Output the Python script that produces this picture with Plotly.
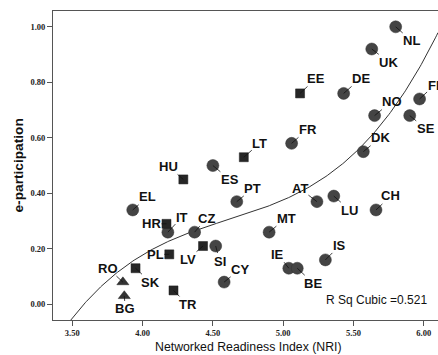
import numpy as np
import plotly.graph_objects as go

# ---------------- data ----------------
countries = ["NL", "UK", "EE", "DE", "FI", "NO", "SE", "DK", "FR", "LT", "ES", "HU",
             "EL", "HR", "IT", "CZ", "PL", "LV", "SI", "SK", "RO", "BG", "TR", "PT",
             "AT", "LU", "CH", "MT", "IS", "IE", "BE", "CY"]
nri = [5.80, 5.63, 5.12, 5.43, 5.97, 5.65, 5.90, 5.57, 5.06, 4.72, 4.50, 4.29,
       3.93, 4.17, 4.18, 4.37, 4.19, 4.43, 4.52, 3.95, 3.86, 3.87, 4.22, 4.67,
       5.24, 5.36, 5.66, 4.90, 5.30, 5.04, 5.10, 4.58]
e_participation = [1.00, 0.92, 0.76, 0.76, 0.74, 0.68, 0.68, 0.55, 0.58, 0.53, 0.50, 0.45,
                   0.34, 0.29, 0.26, 0.26, 0.18, 0.21, 0.21, 0.13, 0.08, 0.03, 0.05, 0.37,
                   0.37, 0.39, 0.34, 0.26, 0.16, 0.13, 0.13, 0.08]
group = ["c", "c", "s", "c", "c", "c", "c", "c", "c", "s", "c", "s",
         "c", "s", "c", "c", "s", "s", "c", "s", "t", "t", "s", "c",
         "c", "c", "c", "c", "c", "c", "c", "c"]
x_ticks = [3.5, 4.0, 4.5, 5.0, 5.5, 6.0]
y_ticks = [0.0, 0.2, 0.4, 0.6, 0.8, 1.0]
r_sq_text = "R Sq Cubic =0.521"

# ---------------- styles ----------------
label_offsets = {
    "NL": (16, 14), "UK": (17, 13), "EE": (16, -15), "DE": (17, -15), "FI": (14, -13),
    "NO": (17, -14), "SE": (16, 13), "DK": (17, -14), "FR": (16, -14), "LT": (16, -14),
    "ES": (17, 14), "HU": (-15, -13), "EL": (15, -13), "HR": (-15, 0), "IT": (14, -15),
    "CZ": (12, -14), "PL": (-14, 0), "LV": (-15, 13), "SI": (4, 15), "SK": (15, 14),
    "RO": (-15, -14), "BG": (1, 13), "TR": (14, 14), "PT": (16, -13), "AT": (-17, -13),
    "LU": (16, 14), "CH": (15, -14), "MT": (17, -14), "IS": (14, -14), "IE": (-11, -14),
    "BE": (16, 15), "CY": (16, -13),
}
marker_styles = {
    "c": dict(symbol="circle", size=12, color="#444444", line=dict(color="#333333", width=0.5)),
    "s": dict(symbol="square", size=9, color="#262626", line=dict(color="#1a1a1a", width=0.5)),
    "t": dict(symbol="triangle-up", size=10.5, color="#333333", line=dict(color="#222222", width=0.5)),
}
SANS = "Liberation Sans, Arial, sans-serif"
SERIF = "Liberation Serif, Times New Roman, serif"

x_range = [3.363, 6.101]
y_range = [-0.0566, 1.057]

fig = go.Figure()

# cubic fit line (computed from the data, as the original R Sq Cubic fit)
coef = np.polyfit(nri, e_participation, 3)
xf = np.linspace(x_range[0], x_range[1], 300)
fig.add_trace(go.Scatter(x=xf, y=np.polyval(coef, xf), mode="lines",
                         line=dict(color="#333333", width=1), hoverinfo="skip"))

for g in ["c", "s", "t"]:
    idx = [i for i, v in enumerate(group) if v == g]
    fig.add_trace(go.Scatter(
        x=[nri[i] for i in idx], y=[e_participation[i] for i in idx],
        mode="markers", marker=marker_styles[g],
        text=[countries[i] for i in idx], hoverinfo="text"))

annotations = []
for c, xv, yv in zip(countries, nri, e_participation):
    dx, dy = label_offsets[c]
    annotations.append(dict(
        x=xv, y=yv, xref="x", yref="y", text=f"<b>{c}</b>", showarrow=True,
        ax=dx, ay=dy, arrowhead=0, arrowwidth=0.8, arrowcolor="#111111",
        standoff=0, borderpad=0, font=dict(family=SANS, size=13, color="#111111")))

annotations.append(dict(x=(376 - 53) / 385, y=(320 - 300) / 309, xref="paper", yref="paper",
                        text=r_sq_text, showarrow=False, xanchor="center", yanchor="middle",
                        font=dict(family=SANS, size=12, color="#111111")))
annotations.append(dict(x=(249 - 53) / 385, y=(320 - 347) / 309, xref="paper", yref="paper",
                        text="Networked Readiness Index (NRI)", showarrow=False,
                        xanchor="center", yanchor="middle",
                        font=dict(family=SANS, size=12.3, color="#111111")))
annotations.append(dict(x=(18 - 53) / 385, y=0.5, xref="paper", yref="paper",
                        text="<b>e-participation</b>", showarrow=False, textangle=-90,
                        xanchor="center", yanchor="middle",
                        font=dict(family=SANS, size=13.7, color="#111111")))

fig.update_layout(
    width=438, height=355,
    margin=dict(l=53, r=0, t=11, b=35),
    paper_bgcolor="white", plot_bgcolor="white",
    showlegend=False,
    annotations=annotations,
    xaxis=dict(range=x_range, tickvals=x_ticks, ticktext=[f"{v:.2f}" for v in x_ticks],
               ticks="outside", ticklen=5, tickcolor="#555555", tickwidth=1,
               showline=True, linecolor="#555555", linewidth=1, mirror=True,
               showgrid=False, zeroline=False,
               tickfont=dict(family=SERIF, size=8.5, color="#222222", weight="bold")),
    yaxis=dict(range=y_range, tickvals=y_ticks, ticktext=[f"{v:.2f}" for v in y_ticks],
               ticks="outside", ticklen=5, tickcolor="#555555", tickwidth=1,
               showline=True, linecolor="#555555", linewidth=1,
               showgrid=False, zeroline=False,
               tickfont=dict(family=SERIF, size=8.5, color="#222222", weight="bold")),
)

fig.write_html("out.html")
